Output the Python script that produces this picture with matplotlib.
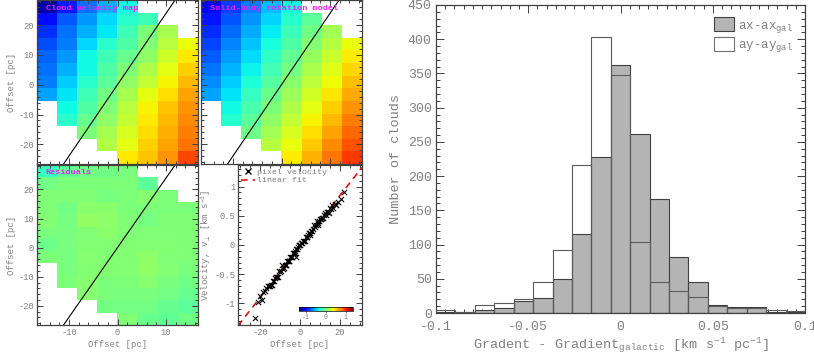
import numpy as np
import matplotlib
matplotlib.use("Agg")
import matplotlib.pyplot as plt
from matplotlib.ticker import MultipleLocator, FixedLocator
from matplotlib.patches import Patch
from matplotlib.lines import Line2D

plt.rcParams['font.family'] = ['Liberation Mono', 'DejaVu Sans']
plt.rcParams['mathtext.fontset'] = 'custom'
plt.rcParams['mathtext.rm'] = 'Liberation Mono'
plt.rcParams['mathtext.it'] = 'Liberation Mono'
plt.rcParams['mathtext.bf'] = 'Liberation Mono:bold'
plt.rcParams['axes.unicode_minus'] = False

nan = np.nan

# velocity map of one cloud (km/s), rows top -> bottom, cols left -> right
vel_map = np.array([
    [-1.25, -0.94, -0.71, -0.54, -0.34,   nan,   nan,   nan],
    [-0.98, -0.78, -0.61, -0.44, -0.27, -0.20,   nan,   nan],
    [-0.88, -0.71, -0.54, -0.40, -0.20,  0.00,  0.14,   nan],
    [-0.81, -0.68, -0.44, -0.27, -0.14,  0.03,  0.20,  0.37],
    [-0.74, -0.61, -0.34, -0.20, -0.07,  0.07,  0.27,  0.44],
    [-0.71, -0.54, -0.34, -0.14,  0.00,  0.17,  0.34,  0.51],
    [-0.68, -0.47, -0.27, -0.10,  0.07,  0.24,  0.41,  0.57],
    [-0.57, -0.41, -0.20, -0.03,  0.14,  0.34,  0.47,  0.64],
    [  nan, -0.34, -0.14,  0.03,  0.20,  0.41,  0.54,  0.68],
    [  nan, -0.27, -0.07,  0.07,  0.24,  0.44,  0.57,  0.71],
    [  nan,   nan,  0.00,  0.14,  0.30,  0.47,  0.61,  0.74],
    [  nan,   nan,   nan,  0.17,  0.34,  0.51,  0.64,  0.78],
    [  nan,   nan,   nan,   nan,  0.44,  0.54,  0.68,  0.90],
])
map_xlim = (-16.6, 16.6)
map_ylim = (-26.6, 28.4)
vel_range = (-1.35, 1.35)
rotation_axis_deg = 67.3   # position of the drawn rotation axis (through origin)

# histogram of gradient differences
bin_edges = np.linspace(-0.1, 0.1, 20)
counts_ax = [1, 2, 4, 8, 18, 22, 49, 116, 228, 363, 262, 166, 82, 45, 12, 9, 9, 1, 1]
counts_ay = [4, 1, 11, 15, 21, 45, 92, 216, 403, 347, 104, 45, 32, 23, 10, 8, 7, 4, 3]

TXT = '#808080'
SPINE = '#404040'
W, H = 814, 362


def box(l, t, r, b):
    return [l / W, 1 - b / H, (r - l) / W, (b - t) / H]


def style(ax, fs, maj=4, mnr=2, pad=2):
    ax.tick_params(which='both', direction='in', top=True, right=True,
                   colors=SPINE, labelcolor=TXT, labelsize=fs, width=0.7, pad=pad)
    ax.tick_params(which='major', length=maj)
    ax.tick_params(which='minor', length=mnr)
    for s in ax.spines.values():
        s.set_color(SPINE)
        s.set_linewidth(0.9)


# plane fit = solid-body rotation model
nr, nc = vel_map.shape
xc = map_xlim[0] + (np.arange(nc) + 0.5) * (map_xlim[1] - map_xlim[0]) / nc
yc = map_ylim[1] - (np.arange(nr) + 0.5) * (map_ylim[1] - map_ylim[0]) / nr
X, Y = np.meshgrid(xc, yc)
ok = ~np.isnan(vel_map)
A = np.c_[np.ones(ok.sum()), X[ok], Y[ok]]
coef = np.linalg.lstsq(A, vel_map[ok], rcond=None)[0]
model = np.full_like(vel_map, nan)
model[ok] = A @ coef
resid = vel_map - model
gmag = np.hypot(coef[1], coef[2])
offset = (coef[1] * X[ok] + coef[2] * Y[ok]) / gmag
fit = np.polyfit(offset, vel_map[ok], 1)
ang = np.deg2rad(rotation_axis_deg)
axis_dir = np.array([np.cos(ang), np.sin(ang)])

fig = plt.figure(figsize=(W / 100, H / 100), dpi=100)

panels = [
    (box(37, 0, 198, 164), vel_map, 'Cloud velocity map', False, True),
    (box(201, 0, 362, 164), model, 'Solid-body rotation model', False, False),
    (box(37, 165, 198, 325), resid, 'Residuals', True, True),
]
for rect, data, title, xlab, ylab in panels:
    ax = fig.add_axes(rect)
    im = ax.imshow(data, cmap='jet', vmin=vel_range[0], vmax=vel_range[1],
                   extent=[map_xlim[0], map_xlim[1], map_ylim[0], map_ylim[1]],
                   aspect='auto', interpolation='nearest')
    s = np.array([-60, 60])
    ax.plot(s * axis_dir[0], s * axis_dir[1], color='black', lw=0.8)
    ax.set_xlim(map_xlim)
    ax.set_ylim(map_ylim)
    ax.xaxis.set_major_locator(MultipleLocator(10))
    ax.xaxis.set_minor_locator(MultipleLocator(2))
    ax.yaxis.set_major_locator(MultipleLocator(10))
    ax.yaxis.set_minor_locator(MultipleLocator(2))
    style(ax, 6.3)
    if not xlab:
        ax.tick_params(labelbottom=False)
    else:
        ax.set_xlabel('Offset [pc]', fontsize=6.5, color=TXT, labelpad=2)
    if not ylab:
        ax.tick_params(labelleft=False)
    else:
        ax.set_ylabel('Offset [pc]', fontsize=6.5, color=TXT, labelpad=2)
    ax.text(0.054, 0.95, title, transform=ax.transAxes, color='#ee22ee',
            fontsize=6.1, fontweight='bold', va='center', ha='left')

# velocity vs offset
ax4 = fig.add_axes(box(238, 165, 362, 325))
ax4.scatter(offset, vel_map[ok], marker='x', color='black', s=14, lw=0.8, zorder=3)
xs = np.array([-31, 31])
ax4.plot(xs, np.polyval(fit, xs), color='#e01010', ls=(0, (4, 3)), lw=1.2, zorder=2)
ax4.set_xlim(-31, 31)
ax4.set_ylim(-1.37, 1.37)
ax4.xaxis.set_major_locator(MultipleLocator(20))
ax4.xaxis.set_minor_locator(MultipleLocator(5))
ax4.yaxis.set_major_locator(FixedLocator([-1, -0.5, 0, 0.5, 1]))
ax4.set_yticklabels(['-1', '-0.5', '0', '0.5', '1'])
ax4.yaxis.set_minor_locator(MultipleLocator(0.1))
style(ax4, 6.3)
ax4.set_xlabel('Offset [pc]', fontsize=6.5, color=TXT, labelpad=2)
ax4.set_ylabel(r'Velocity, v$_{\perp}$ [km s$^{-1}$]', fontsize=6.5, color=TXT, labelpad=1)
handles = [Line2D([], [], marker='x', color='black', ls='none', markersize=4, mew=1),
           Line2D([], [], color='#e01010', ls=(0, (4, 3)), lw=1.2)]
leg = ax4.legend(handles, ['pixel velocity', 'linear fit'], loc='upper left',
                 frameon=False, fontsize=6, handlelength=1.6, handletextpad=0.3,
                 borderaxespad=0.2, labelspacing=0.05, borderpad=0.2)
for t in leg.get_texts():
    t.set_color(TXT)
cax = ax4.inset_axes([0.492, 0.0875, 0.435, 0.025])
cb = fig.colorbar(im, cax=cax, orientation='horizontal')
cb.set_ticks([-1, 0, 1])
cb.set_ticklabels(['-1', '0', '1'])
cb.ax.tick_params(labelsize=4.8, labelcolor=TXT, length=1.5, width=0.5, pad=1, colors=SPINE)
cb.outline.set_linewidth(0.5)

# histogram panel
axh = fig.add_axes(box(436, 5, 805, 313))
centers = 0.5 * (bin_edges[:-1] + bin_edges[1:])
width = np.diff(bin_edges)
axh.bar(centers, counts_ax, width=width, color='#b4b4b4', edgecolor=SPINE, lw=0.8, zorder=2)
axh.bar(centers, counts_ay, width=width, fill=False, edgecolor='#5a5a5a', lw=0.8, zorder=3)
axh.set_xlim(-0.1, 0.1)
axh.set_ylim(0, 450)
axh.xaxis.set_major_locator(FixedLocator([-0.1, -0.05, 0, 0.05, 0.1]))
axh.set_xticklabels(['-0.1', '-0.05', '0', '0.05', '0.1'])
axh.xaxis.set_minor_locator(MultipleLocator(0.005))
axh.yaxis.set_major_locator(MultipleLocator(50))
axh.yaxis.set_minor_locator(MultipleLocator(10))
style(axh, 9.5, maj=6, mnr=3, pad=3)
axh.tick_params(axis='x', pad=6)
axh.set_xlabel(r'Gradent - Gradient$_{galactic}$ [km s$^{-1}$ pc$^{-1}$]',
               fontsize=9.7, color=TXT, labelpad=2)
axh.set_ylabel('Number of clouds', fontsize=9.7, color=TXT, labelpad=4)
lh = [Patch(facecolor='#b4b4b4', edgecolor=SPINE, lw=0.8),
      Patch(facecolor='white', edgecolor='#707070', lw=0.8)]
leg2 = axh.legend(lh, [r'ax-ax$_{gal}$', r'ay-ay$_{gal}$'], loc='upper right',
                  frameon=False, fontsize=9, handlelength=1.6, handleheight=1.3,
                  handletextpad=0.3, labelspacing=0.2, borderaxespad=0.6)
for t in leg2.get_texts():
    t.set_color(TXT)

fig.savefig('out.png', dpi=100)
